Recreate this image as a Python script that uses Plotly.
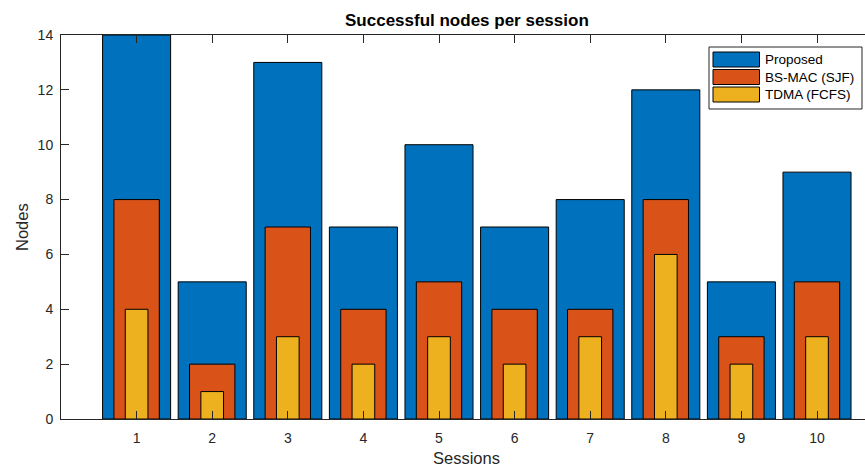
import plotly.graph_objects as go

sessions = [1, 2, 3, 4, 5, 6, 7, 8, 9, 10]
proposed = [14, 5, 13, 7, 10, 7, 8, 12, 5, 9]
bsmac = [8, 2, 7, 4, 5, 4, 4, 8, 3, 5]
tdma = [4, 1, 3, 2, 3, 2, 3, 6, 2, 3]
series_names = ["Proposed", "BS-MAC (SJF)", "TDMA (FCFS)"]
colors = ["#0072BD", "#D95319", "#EDB120"]
widths = [0.9, 0.6, 0.3]
y_ticks = [0, 2, 4, 6, 8, 10, 12, 14]

W, H = 865, 466
L, R, T, B = 61, 0, 35, 47
PW, PH = W - L - R, H - T - B
FONT = "Liberation Sans, Arial, Helvetica, sans-serif"
AX = "#262626"


def px(x):
    return (x - L) / PW


def py(y):
    return (H - B - y) / PH


fig = go.Figure()
for vals, name, col, w in zip([proposed, bsmac, tdma], series_names, colors, widths):
    fig.add_trace(go.Bar(
        x=sessions, y=vals, name=name, width=w,
        marker=dict(color=col, line=dict(color="#000000", width=1)),
        showlegend=False,
    ))

# Custom MATLAB-like legend
shapes = [dict(type="rect", xref="paper", yref="paper",
               x0=px(709), x1=px(862), y0=py(109), y1=py(47),
               fillcolor="white", line=dict(color=AX, width=1), layer="above")]
annotations = []
row_tops = [52, 69.5, 87]
for name, col, top in zip(series_names, colors, row_tops):
    shapes.append(dict(type="rect", xref="paper", yref="paper",
                       x0=px(713), x1=px(759.5), y0=py(top + 15), y1=py(top),
                       fillcolor=col, line=dict(color="#000000", width=1), layer="above"))
    annotations.append(dict(xref="paper", yref="paper", x=px(763), y=py(top + 7.5),
                            xanchor="left", yanchor="middle", showarrow=False,
                            text=name, font=dict(family=FONT, size=13.5, color="#000000")))

# Axis titles and chart title
annotations.append(dict(xref="paper", yref="paper", x=px(466.5), y=py(458),
                        xanchor="center", yanchor="middle", showarrow=False,
                        text="Sessions", font=dict(family=FONT, size=16.5, color=AX)))
annotations.append(dict(xref="paper", yref="paper", x=px(22), y=py(227),
                        xanchor="center", yanchor="middle", showarrow=False, textangle=-90,
                        text="Nodes", font=dict(family=FONT, size=16.5, color=AX)))
annotations.append(dict(xref="paper", yref="paper", x=px(466.5), y=py(20),
                        xanchor="center", yanchor="middle", showarrow=False,
                        text="<b>Successful nodes per session</b>",
                        font=dict(family=FONT, size=17, color="#000000")))

fig.update_layout(
    width=W, height=H,
    margin=dict(l=L, r=R, t=T, b=B, pad=0),
    paper_bgcolor="white", plot_bgcolor="white",
    barmode="overlay",
    font=dict(family=FONT, size=14, color=AX),
    shapes=shapes, annotations=annotations,
    showlegend=False,
)
fig.update_xaxes(
    range=[0, PW / 75.6], tickvals=sessions, ticktext=[str(s) for s in sessions],
    ticks="inside", ticklen=8, tickwidth=1, tickcolor=AX,
    showline=True, linecolor=AX, linewidth=1, mirror="ticks",
    showgrid=False, zeroline=False, layer="above traces",
    ticklabelstandoff=6, tickfont=dict(family=FONT, size=14, color=AX),
)
fig.update_yaxes(
    range=[0, 14], tickvals=y_ticks, ticktext=[str(v) for v in y_ticks],
    ticks="inside", ticklen=8, tickwidth=1, tickcolor=AX,
    showline=True, linecolor=AX, linewidth=1, mirror=False,
    showgrid=False, zeroline=False, layer="above traces",
    ticklabelstandoff=4, tickfont=dict(family=FONT, size=14, color=AX),
)

fig.write_html(
    "out.html",
    config={"displayModeBar": False},
    post_script="document.body.style.margin='0px';document.body.style.overflow='hidden';",
)
